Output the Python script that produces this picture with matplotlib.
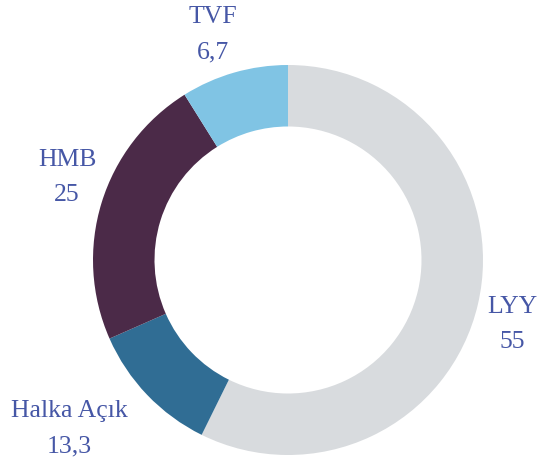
import matplotlib.pyplot as plt

# arc shares as measured on the ring, printed values as labels
names = ['LYY', 'Halka Açık', 'HMB', 'TVF']
shares = [57.3, 11.1, 22.7, 8.9]
values = ['55', '13,3', '25', '6,7']
colors = ['#d8dbde', '#306d94', '#4b2a48', '#80c4e4']

W, H = 538, 462
fig = plt.figure(figsize=(W / 100, H / 100), dpi=100)
ax = fig.add_axes([0, 0, 1, 1])

cx, cy = 288, H - 260
R = 195
ax.pie(shares, colors=colors, startangle=90, counterclock=False,
       center=(cx, cy), radius=R,
       wedgeprops=dict(width=61.5, linewidth=0))

ax.set_xlim(0, W)
ax.set_ylim(0, H)
ax.set_aspect('equal')
ax.axis('off')

# label centres (image pixels)
label_pos = {'LYY': (512, 307), 'Halka Açık': (69, 411),
             'HMB': (67, 160), 'TVF': (213, 17)}
txt = '#4657a6'
for n, v in zip(names, values):
    x, y = label_pos[n]
    ax.text(x, H - y, n, ha='center', va='center', fontsize=18.5,
            family='Liberation Serif', color=txt)
    ax.text(x, H - y - 35, v, ha='center', va='center', fontsize=18.5,
            family='Liberation Serif', color=txt)

fig.savefig('out.png', dpi=100)
